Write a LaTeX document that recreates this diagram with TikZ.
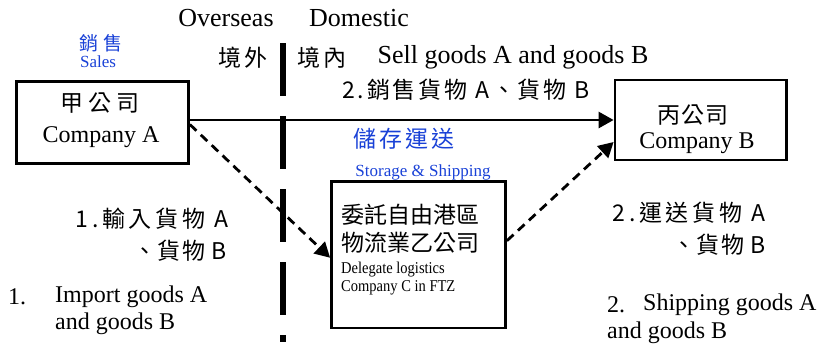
\documentclass[tikz,border=0pt]{standalone}
\usepackage{fontspec}
\setmainfont{Liberation Serif}
\newfontfamily\narrowserif[FakeStretch=0.88]{Liberation Serif}
\newfontfamily\cjkA[LetterSpace=0]{Noto Sans CJK TC}
\newfontfamily\cjkB[LetterSpace=6]{Noto Sans CJK TC}
\newfontfamily\cjkC[LetterSpace=12]{Noto Sans CJK TC}
\newfontfamily\cjkD[LetterSpace=16]{Noto Sans CJK TC}
\newfontfamily\cjkE[LetterSpace=22]{Noto Sans CJK TC}
\newfontfamily\cjkF[LetterSpace=26]{Noto Sans CJK TC}
\usetikzlibrary{arrows.meta}
\definecolor{lblue}{RGB}{25,65,215}
\begin{document}
\begin{tikzpicture}[x=1pt,y=-1pt,
  box/.style={draw, line width=2.8pt, inner sep=0pt},
  txt/.style={inner sep=0pt, anchor=center},
  en/.style={font=\fontsize{24}{28}\selectfont},
  enbig/.style={font=\fontsize{26}{30}\selectfont},
  ensmall/.style={font=\fontsize{17}{20}\selectfont},
  entiny/.style={font=\narrowserif\fontsize{16.5}{19}\selectfont},
  zh/.style={font=#1\fontsize{23}{27}\selectfont},
  zhsmall/.style={font=#1\fontsize{19}{22}\selectfont},
  flow/.style={line width=2.8pt, -{Triangle[length=15pt,width=16pt]}},
  dflow/.style={flow, dash pattern=on 9pt off 6pt},
  border/.style={line width=6pt, dash pattern=on 53pt off 20pt}
]
\useasboundingbox (0,0) rectangle (819,349);

% boundary
\coordinate (btop) at (283,43);
\coordinate (bbot) at (283,342);
\draw[border] (btop) -- (bbot);

% headers
\node[txt,enbig] (ovs) at (226,18) {Overseas};
\node[txt,enbig] (dom) at (359,18) {Domestic};
\node[txt,zh=\cjkD] (jw) at (243,58) {境外};
\node[txt,zh=\cjkD] (jn) at (322,58) {境內};
\node[txt,enbig] (sell) at (513,57) {Sell goods A and goods B};
\node[txt,zh=\cjkC] (sellzh) at (466,90) {2.銷售貨物 A、貨物 B};

% sales label
\node[txt,zhsmall=\cjkF,text=lblue] (salezh) at (101,43) {銷售};
\node[txt,ensmall,text=lblue] (saleen) at (98,62) {Sales};

% boxes
\node[box, minimum width=172pt, minimum height=82pt] (A) at (102.5,122.5) {};
\node[txt,zh=\cjkE] (Azh) at (100,103) {甲公司};
\node[txt,en] (Aen) at (101,137) {Company A};

\node[box, minimum width=171.5pt, minimum height=80pt] (B) at (700.75,120) {};
\node[txt,zh=\cjkB] (Bzh) at (693,115) {丙公司};
\node[txt,en] (Ben) at (697,143) {Company B};

\node[box, minimum width=174pt, minimum height=146.5pt] (C) at (418.5,254.75) {};
\node[txt,zh=\cjkA] (Czh1) at (410,215) {委託自由港區};
\node[txt,zh=\cjkA] (Czh2) at (410,243) {物流業乙公司};
\node[txt,entiny,anchor=west] (Cen1) at (341,270) {Delegate logistics};
\node[txt,entiny,anchor=west] (Cen2) at (341,288) {Company C in FTZ};

% storage label
\node[txt,zh=\cjkC,text=lblue] (stzh) at (404,139) {儲存運送};
\node[txt,ensmall,text=lblue] (sten) at (423,172) {Storage \& Shipping};

% connectors
\draw[flow] (A.east |- B.west) -- (B.west);
\draw[dflow] ([yshift=-2pt]A.east) -- ([yshift=-3pt]C.west);
\draw[dflow] ([yshift=14pt]C.east) -- ([yshift=-22pt]B.west);

% import labels
\node[txt,zh=\cjkD] (imzh1) at (152,219) {1.輸入貨物 A};
\node[txt,zh=\cjkB] (imzh2) at (180,251) {、貨物 B};
\node[txt,en,anchor=west] (imn) at (8,297) {1.};
\node[txt,en,anchor=west] (imen1) at (55,297) {Import goods A};
\node[txt,en,anchor=west] (imen2) at (55,324) {and goods B};

% shipping labels
\node[txt,zh=\cjkD] (shzh1) at (689,213) {2.運送貨物 A};
\node[txt,zh=\cjkB] (shzh2) at (719,245) {、貨物 B};
\node[txt,en,anchor=west] (shn) at (607,305) {2.};
\node[txt,en,anchor=west] (shen1) at (643,305) {Shipping goods A};
\node[txt,en,anchor=west] (shen2) at (607,333) {and goods B};
\end{tikzpicture}
\end{document}
